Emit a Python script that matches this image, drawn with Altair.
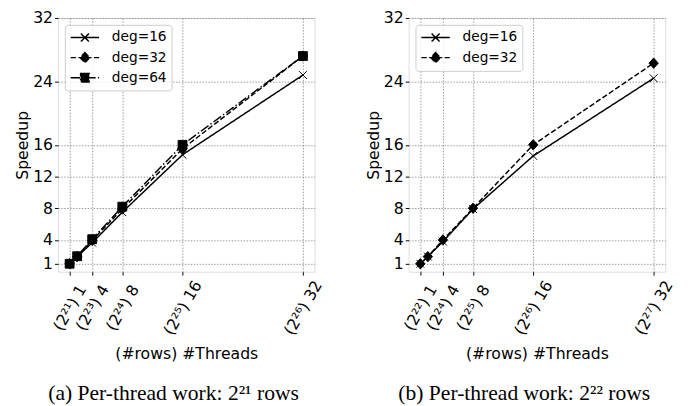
import altair as alt
import pandas as pd

threads = [1, 2, 4, 8, 16, 32]

# Panel (a)
a_deg16 = [1.0, 1.9, 3.65, 7.5, 14.75, 24.8]
a_deg32 = [1.0, 1.9, 3.95, 7.9, 15.5, 27.2]
a_deg64 = [1.0, 1.95, 4.1, 8.2, 16.0, 27.2]
# Panel (b)
b_deg16 = [1.0, 1.9, 3.8, 7.9, 14.6, 24.4]
b_deg32 = [1.0, 1.9, 4.0, 8.0, 16.0, 26.3]

x_tick_values = [1, 4, 8, 16, 32]
a_tick_labels = ["(2²¹) 1", "(2²³) 4", "(2²⁴) 8", "(2²⁵) 16", "(2²⁶) 32"]
b_tick_labels = ["(2²²) 1", "(2²⁴) 4", "(2²⁵) 8", "(2²⁶) 16", "(2²⁷) 32"]
y_tick_values = [1, 4, 8, 12, 16, 24, 32]

a_caption = "(a) Per-thread work: 2²¹  rows"
b_caption = "(b) Per-thread work: 2²²  rows"

dashes = {"deg=16": [1, 0], "deg=32": [5.5, 2.4], "deg=64": [9.6, 2.4, 1.5, 2.4]}
marker_paths = {
    "deg=16": "M-0.8,-0.8L0.8,0.8M-0.8,0.8L0.8,-0.8",
    "deg=32": "M0,-1.05L0.95,0L0,1.05L-0.95,0Z",
    "deg=64": "M-0.9,-0.9L0.9,-0.9L0.9,0.9L-0.9,0.9Z",
}
legend_paths = {
    "deg=16": "M-1,0L1,0M-0.28,-0.28L0.28,0.28M-0.28,0.28L0.28,-0.28",
    "deg=32": "M-1,0L1,0M0,-0.36L0.33,0L0,0.36L-0.33,0Z",
    "deg=64": "M-1,0L1,0M-0.3,-0.3L0.3,-0.3L0.3,0.3L-0.3,0.3Z",
}


def make_df(series):
    rows = []
    for name, vals in series.items():
        for t, v in zip(threads, vals):
            rows.append({"threads": t, "speedup": v, "deg": name})
    return pd.DataFrame(rows)


FONT = "DejaVu Sans"
GRID = "#808080"


def panel(series, tick_labels, caption):
    df = make_df(series)
    degs = list(series.keys())
    vals_js = "[" + ",".join(str(v) for v in x_tick_values) + "]"
    labs_js = "[" + ",".join("'" + s + "'" for s in tick_labels) + "]"
    label_expr = f"{labs_js}[indexof({vals_js}, datum.value)]"

    x = alt.X(
        "threads:Q",
        scale=alt.Scale(domain=[-0.55, 33.55], nice=False, zero=False),
        axis=alt.Axis(
            values=x_tick_values,
            labelExpr=label_expr,
            labelAngle=300,
            labelAlign="center",
            labelBaseline="middle",
            labelPadding=33,
            labelFont=FONT,
            labelFontSize=16,
            labelColor="black",
            labelOverlap=False,
            labelFlush=False,
            labelBound=False,
            tickSize=3.5,
            tickColor="black",
            tickWidth=1,
            domain=False,
            grid=True,
            gridColor=GRID,
            gridDash=[1.5, 1.5],
            gridWidth=0.8,
            title="(#rows) #Threads",
            titleFont=FONT,
            titleFontSize=16,
            titleFontWeight="normal",
            titleColor="black",
            titlePadding=9,
        ),
    )
    y = alt.Y(
        "speedup:Q",
        scale=alt.Scale(domain=[0, 32], nice=False, zero=False),
        axis=alt.Axis(
            values=y_tick_values,
            labelFont=FONT,
            labelFontSize=16,
            labelColor="black",
            labelPadding=2,
            labelOverlap=False,
            labelFlush=False,
            tickSize=3.5,
            tickColor="black",
            tickWidth=1,
            domain=False,
            grid=True,
            gridColor=GRID,
            gridDash=[1.5, 1.5],
            gridWidth=0.8,
            title="Speedup",
            titleFont=FONT,
            titleFontSize=16,
            titleFontWeight="normal",
            titleColor="black",
            titlePadding=2,
        ),
    )
    legend = alt.Legend(
        title=None,
        orient="top-left",
        offset=7,
        padding=5,
        strokeColor="#cccccc",
        fillColor="rgba(255,255,255,0.8)",
        cornerRadius=3,
        labelFont=FONT,
        labelFontSize=14,
        labelColor="black",
        labelOffset=12,
        symbolSize=841,
        symbolStrokeWidth=1.5,
        symbolOpacity=1,
        clipHeight=16,
        rowPadding=4.5,
    )
    dash = alt.StrokeDash(
        "deg:N",
        scale=alt.Scale(domain=degs, range=[dashes[d] for d in degs]),
        legend=legend,
    )
    base = alt.Chart(df)
    lines = base.mark_line(color="black", strokeWidth=1.5).encode(
        x=x, y=y, strokeDash=dash
    )
    layers = [lines]
    for d in degs:
        layers.append(
            base.transform_filter(alt.datum.deg == d)
            .mark_point(
                shape=marker_paths[d],
                size=100,
                filled=True,
                fill="black",
                stroke="black",
                strokeWidth=1,
                opacity=1,
            )
            .encode(x=x, y=y)
        )
    leg = base.mark_point(
        fill="black", stroke="black", strokeWidth=1.5, opacity=0
    ).encode(
        x=x,
        y=y,
        shape=alt.Shape(
            "deg:N",
            scale=alt.Scale(domain=degs, range=[legend_paths[d] for d in degs]),
            legend=legend,
        ),
        strokeDash=dash,
    )
    layers.insert(0, leg)
    return alt.layer(*layers).properties(
        width=262,
        height=259,
        title=alt.TitleParams(
            text=caption,
            orient="bottom",
            anchor="middle",
            font="Liberation Serif",
            fontSize=22,
            fontWeight="normal",
            color="black",
            offset=22,
            dx=-13,
        ),
    )


left = panel({"deg=16": a_deg16, "deg=32": a_deg32, "deg=64": a_deg64}, a_tick_labels, a_caption)
right = panel({"deg=16": b_deg16, "deg=32": b_deg32}, b_tick_labels, b_caption)

chart = (
    alt.hconcat(left, right, spacing=40)
    .resolve_scale(shape="independent", strokeDash="independent", x="independent", y="independent")
    .resolve_legend(shape="independent", strokeDash="independent")
    .properties(padding={"left": 6, "top": -3, "right": 5, "bottom": 0})
    .configure_view(stroke="black", strokeWidth=1)
    .configure(background="white")
)

chart.save("out.html", embed_options={"renderer": "svg", "actions": False})
